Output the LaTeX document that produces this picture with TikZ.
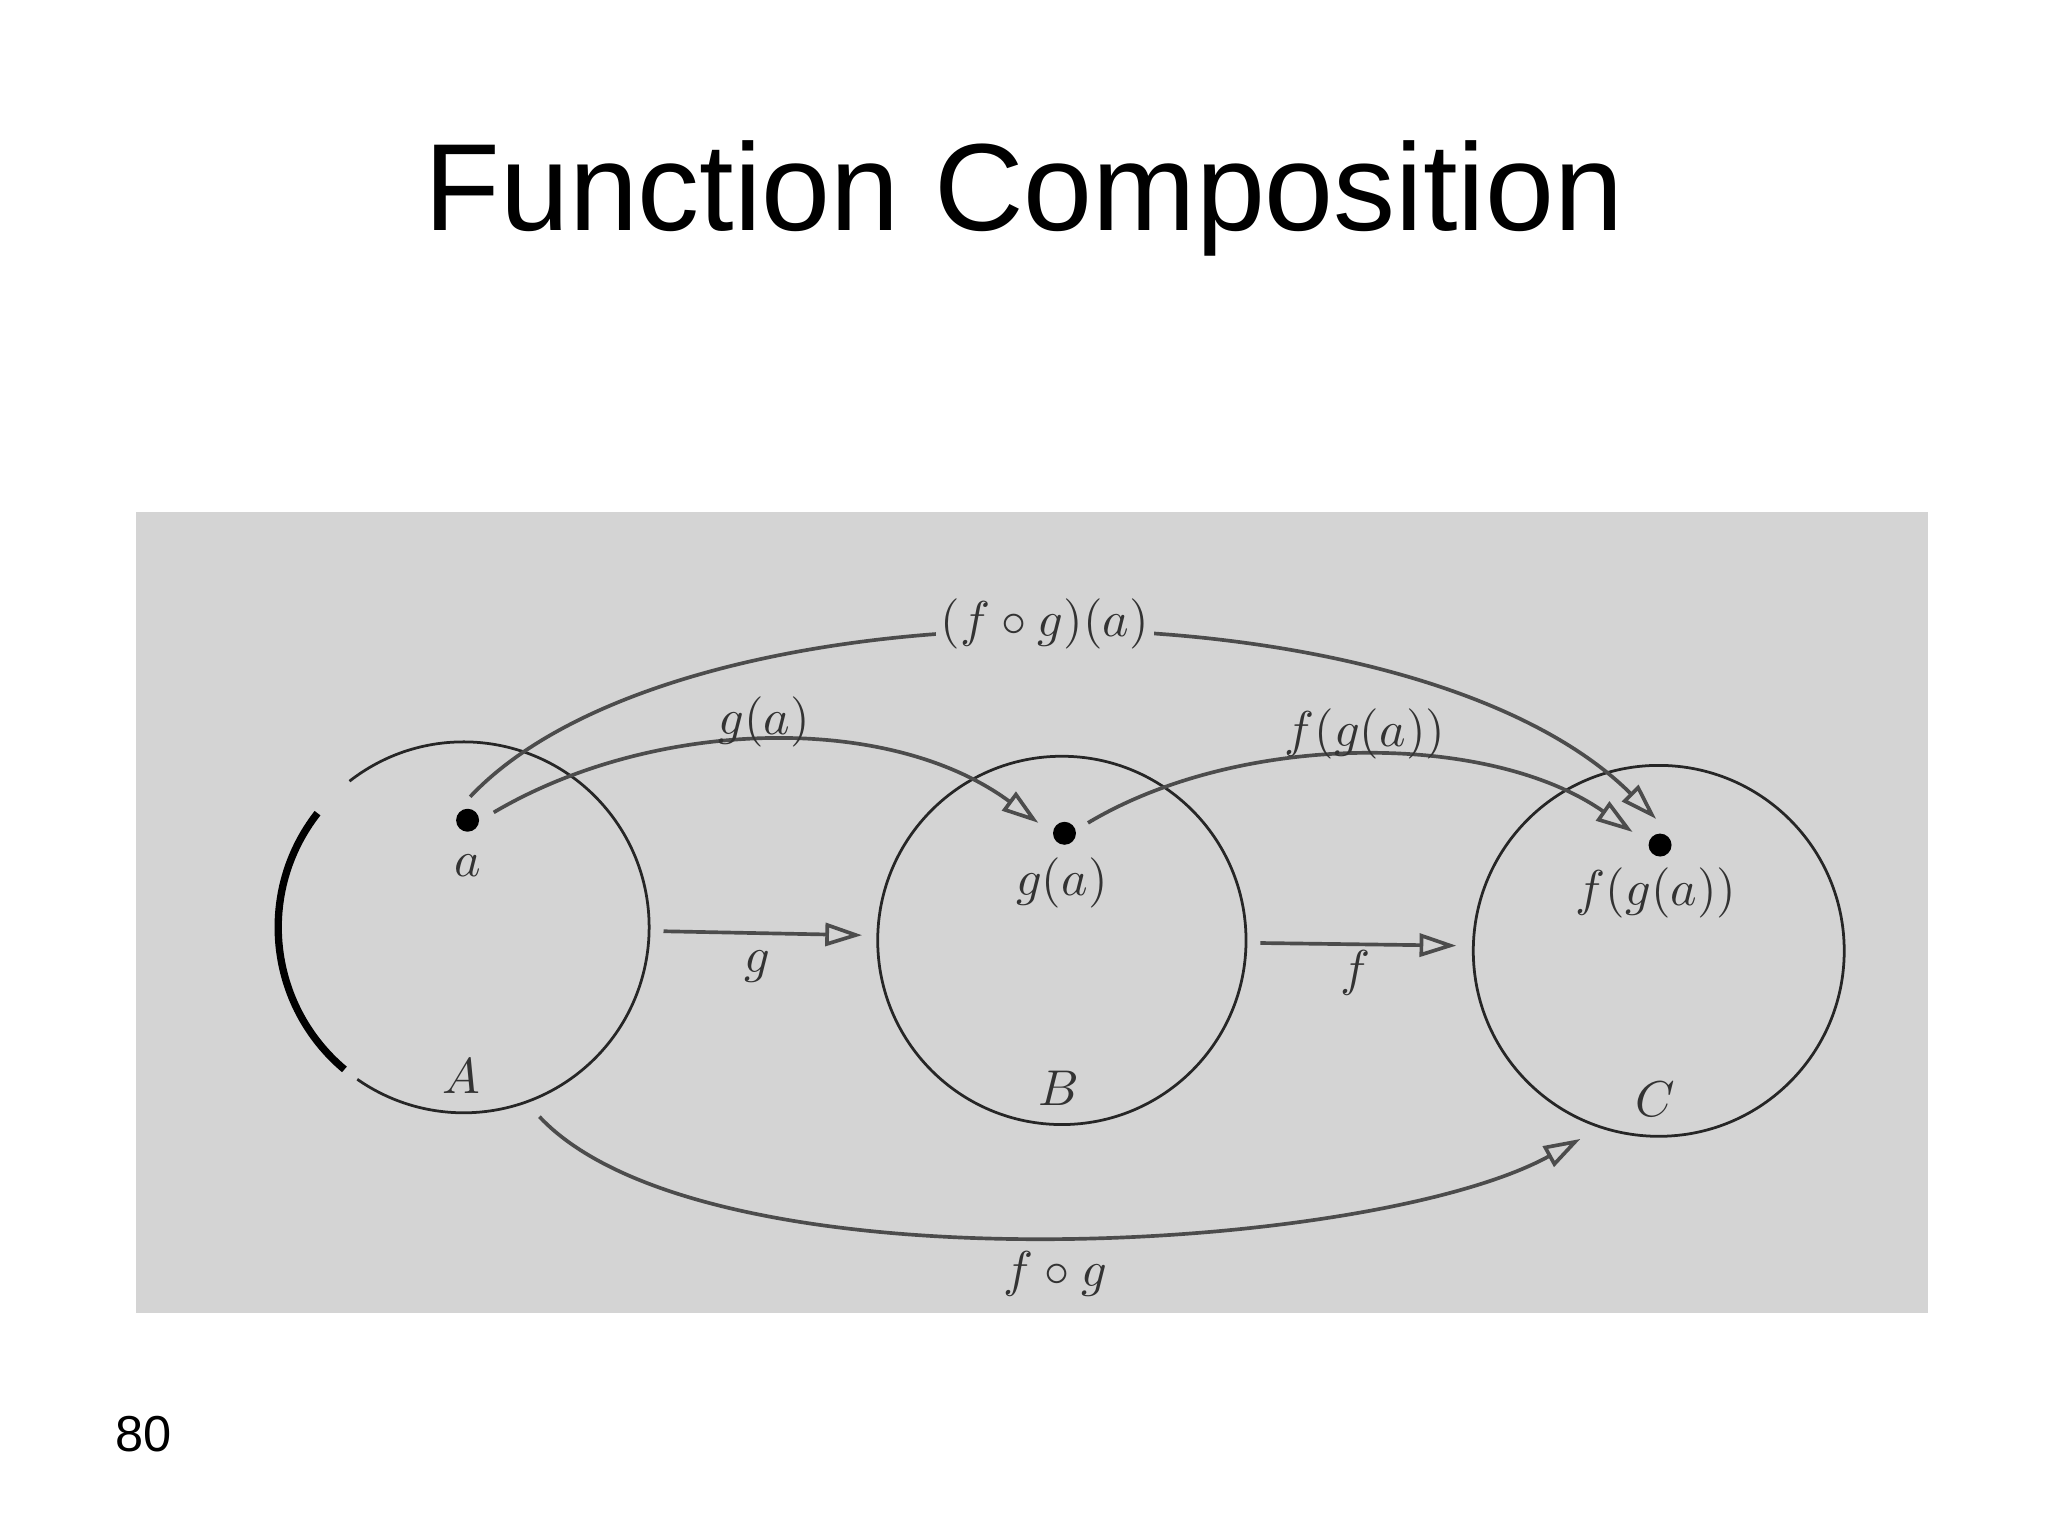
\documentclass[tikz,border=0pt]{standalone}
\usepackage{fontspec}
\setmainfont{Liberation Serif}
\newfontfamily\titlefont{Liberation Sans}
\usetikzlibrary{arrows.meta}
\begin{document}
\begin{tikzpicture}[x=0.01cm,y=-0.01cm,
  setc/.style={draw=black!85,line width=0.6pt},
  conn/.style={draw=black!70,line width=0.8pt,-{Triangle[open,length=8pt,width=5pt]}},
  dot/.style={circle,fill=black,inner sep=0pt,minimum size=5pt},
  lab/.style={font=\fontsize{11}{13}\selectfont\itshape,text=black!80}]
\useasboundingbox (0,0) rectangle (1568,1176);
\fill[white] (0,0) rectangle (1568,1176);
\fill[black!17] (104,392) rectangle (1476,1005);
\node[font=\titlefont\fontsize{27}{32}\selectfont] (title) at (784,152) {Function Composition};
\node[font=\titlefont\fontsize{11}{13}\selectfont] (num) at (110,1098) {80};
% sets
\draw[setc] (355,710) ++(-128:142) arc (-128:125:142);
\draw[black,line width=1.6pt] (355,710) ++(130:142) arc (130:218:142);
\draw[setc] (813,720) circle (141);
\draw[setc] (1270,728) circle (142);
\node[dot] (a) at (358,628) {};
\node[dot] (ga) at (815,638) {};
\node[dot] (fga) at (1271,647) {};
\node[lab] (la) at (358,663) {$a$};
\node[lab] (lga) at (813,676) {$g(a)$};
\node[lab] (lfga) at (1268,684) {$f(g(a))$};
\node[lab] (lA) at (353,824) {$A$};
\node[lab] (lB) at (811,833) {$B$};
\node[lab] (lC) at (1267,842) {$C$};
% straight arrows
\coordinate (g1) at (508,713); \coordinate (g2) at (660,716);
\coordinate (f1) at (965,722); \coordinate (f2) at (1115,724);
\draw[conn] (g1) -- (g2);
\draw[conn] (f1) -- (f2);
\node[lab] (lg) at (580,740) {$g$};
\node[lab] (lf) at (1038,745) {$f$};
% curved arrows
\coordinate (s1) at (378,622); \coordinate (e1) at (795,630);
\draw[conn] (s1) .. controls (500,550) and (680,545) .. (e1);
\node[lab] (lc1) at (585,553) {$g(a)$};
\coordinate (s2) at (833,630); \coordinate (e2) at (1250,637);
\draw[conn] (s2) .. controls (950,560) and (1140,560) .. (e2);
\node[lab] (lc2) at (1045,562) {$f(g(a))$};
\coordinate (s3) at (360,610); \coordinate (e3) at (1268,627);
\draw[conn] (s3) .. controls (520,440) and (1080,440) .. (e3);
\node[lab,fill=black!17,inner sep=1pt] (lc3) at (800,478) {$(f\circ g)(a)$};
\coordinate (s4) at (413,855); \coordinate (e4) at (1210,872);
\draw[conn] (s4) .. controls (540,990) and (1050,960) .. (e4);
\node[lab] (lc4) at (808,975) {$f\circ g$};
\end{tikzpicture}
\end{document}
